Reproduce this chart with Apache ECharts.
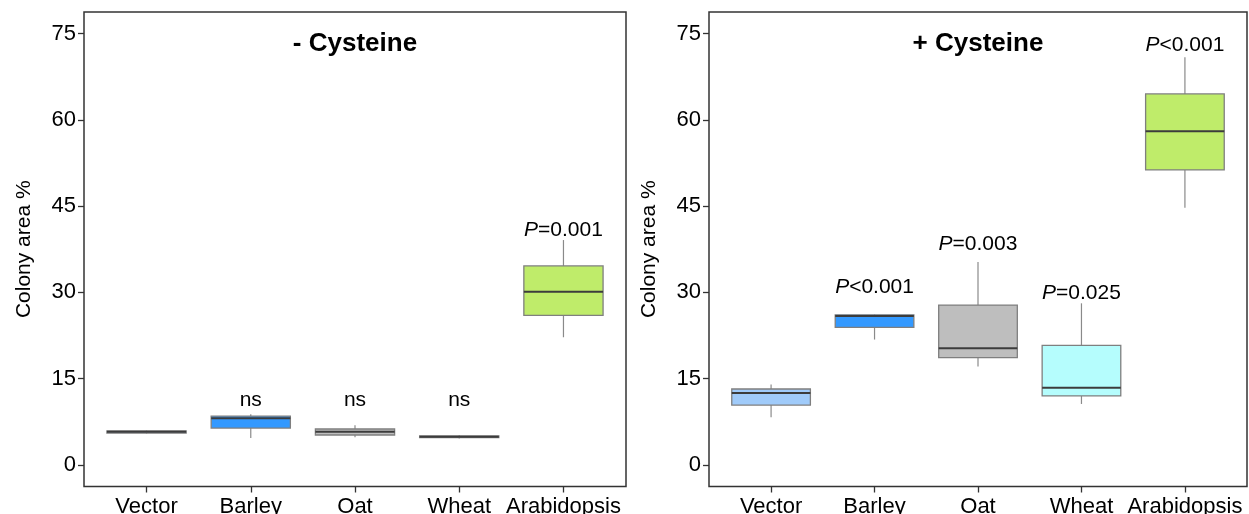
<!DOCTYPE html>
<html><head><meta charset="utf-8">
<script src="https://cdn.jsdelivr.net/npm/echarts@6/dist/echarts.min.js"></script>
<style>html,body{margin:0;padding:0;background:#fff}#c{width:1249px;height:514px}</style>
</head><body><div id="c"></div>
<script>
const categories = ['Vector', 'Barley', 'Oat', 'Wheat', 'Arabidopsis'];
const yTicks = [0, 15, 30, 45, 60, 75];
// each row: [min, Q1, median, Q3, max]
const minusCys = [
  [5.45, 5.55, 5.75, 5.9, 6.0],
  [4.7, 6.4, 8.1, 8.5, 8.8],
  [4.8, 5.2, 5.75, 6.25, 6.9],
  [4.6, 4.75, 4.9, 5.05, 5.2],
  [22.2, 26.0, 30.1, 34.6, 39.1]
];
const plusCys = [
  [8.3, 10.4, 12.5, 13.2, 14.0],
  [21.8, 23.9, 25.9, 26.1, 26.2],
  [17.1, 18.65, 20.3, 27.8, 35.3],
  [10.6, 12.0, 13.4, 20.8, 28.1],
  [44.7, 51.3, 58.0, 64.5, 70.9]
];
const boxColors = ['#a0cbfa', '#3399ff', '#bebebe', '#b5fdfd', '#bfec6a'];
const minusLabels = ['', 'ns', 'ns', 'ns', 'P=0.001'];
const minusLabelY = [null, 11.3, 11.3, 11.3, 40.8];
const plusLabels = ['', 'P<0.001', 'P=0.003', 'P=0.025', 'P<0.001'];
const plusLabelY = [null, 30.9, 38.4, 29.9, 73.0];
const titles = ['- Cysteine', '+ Cysteine'];
const titleY = 73.2;

const FONT = '"Liberation Sans", Arial, Helvetica, sans-serif';
const BOX_W = 0.76;

function renderBox(params, api) {
  const x = api.value(0);
  const pMin = api.coord([x, api.value(1)]);
  const pQ1 = api.coord([x, api.value(2)]);
  const pMed = api.coord([x, api.value(3)]);
  const pQ3 = api.coord([x, api.value(4)]);
  const pMax = api.coord([x, api.value(5)]);
  const w = api.size([BOX_W, 0])[0];
  const cx = pMed[0];
  const color = boxColors[params.dataIndex];
  return {
    type: 'group',
    children: [
      { type: 'line', shape: { x1: cx, y1: pMin[1], x2: cx, y2: pQ1[1] }, style: { stroke: '#8a8a8a', lineWidth: 1.2 } },
      { type: 'line', shape: { x1: cx, y1: pQ3[1], x2: cx, y2: pMax[1] }, style: { stroke: '#8a8a8a', lineWidth: 1.2 } },
      { type: 'rect', shape: { x: cx - w / 2, y: pQ3[1], width: w, height: pQ1[1] - pQ3[1] }, style: { fill: color, stroke: '#7f7f7f', lineWidth: 1.3 } },
      { type: 'line', shape: { x1: cx - w / 2, y1: pMed[1], x2: cx + w / 2, y2: pMed[1] }, style: { stroke: '#3c3c3c', lineWidth: 2 } }
    ]
  };
}

const grids = [
  { left: 84, top: 12, width: 542, bottom: 27.5 },
  { left: 709, top: 12, width: 538, bottom: 27.5 }
];

function renderText(params, api) {
  const p = api.coord([api.value(0), api.value(1)]);
  const t = textItems[params.seriesIndex - 2][params.dataIndex];
  return {
    type: 'text', x: p[0], y: p[1],
    style: Object.assign({ textAlign: 'center', textVerticalAlign: 'middle', fill: '#000' }, t.style)
  };
}

// text items built from the arrays above
const textItems = [[], []];
[[minusLabels, minusLabelY], [plusLabels, plusLabelY]].forEach(([labs, ys], gi) => {
  labs.forEach((t, i) => {
    if (!t) return;
    const rich = t.charAt(0) === 'P' ? '{i|P}{n|' + t.slice(1) + '}' : '{n|' + t + '}';
    textItems[gi].push({ x: i, y: ys[i], style: { text: rich, font: '21px ' + FONT,
      rich: { i: { fontSize: 21, fontStyle: 'italic', fill: '#000', fontFamily: FONT }, n: { fontSize: 21, fill: '#000', fontFamily: FONT } } } });
  });
  textItems[gi].push({ x: 2, y: titleY, style: { text: titles[gi], font: 'bold 26px ' + FONT } });
});

const option = {
  animation: false,
  backgroundColor: '#fff',
  grid: grids.map(g => Object.assign({ show: true, borderColor: '#333', borderWidth: 1.5, backgroundColor: 'transparent', containLabel: false, outerBoundsMode: 'none' }, g)),
  xAxis: [0, 1].map(i => ({
    type: 'value', gridIndex: i, min: -0.6, max: 4.6, position: 'bottom',
    axisLine: { show: false, onZero: false },
    splitLine: { show: false },
    axisTick: { show: true, length: 6, customValues: [0, 1, 2, 3, 4], lineStyle: { color: '#333', width: 1.3 } },
    axisLabel: { show: true, customValues: [0, 1, 2, 3, 4], formatter: v => categories[Math.round(v)], fontSize: 22, color: '#000', fontFamily: FONT, margin: 9 }
  })),
  yAxis: [0, 1].map(i => ({
    type: 'value', gridIndex: i, min: -3.75, max: 78.75, position: 'left',
    axisLine: { show: false, onZero: false },
    splitLine: { show: false },
    axisTick: { show: true, length: 6, customValues: yTicks, lineStyle: { color: '#333', width: 1.3 } },
    axisLabel: { show: true, customValues: yTicks, fontSize: 22, color: '#000', fontFamily: FONT, margin: 8 },
    name: 'Colony area %', nameLocation: 'middle', nameGap: 49,
    nameTextStyle: { fontSize: 21, color: '#000', fontFamily: FONT }
  })),
  series: [
    {
      type: 'custom', xAxisIndex: 0, yAxisIndex: 0, renderItem: renderBox,
      encode: { x: 0, y: [1, 2, 3, 4, 5] },
      data: minusCys.map((d, i) => [i].concat(d)), silent: true
    },
    {
      type: 'custom', xAxisIndex: 1, yAxisIndex: 1, renderItem: renderBox,
      encode: { x: 0, y: [1, 2, 3, 4, 5] },
      data: plusCys.map((d, i) => [i].concat(d)), silent: true
    },
    {
      type: 'custom', xAxisIndex: 0, yAxisIndex: 0, renderItem: renderText,
      encode: { x: 0, y: 1 }, data: textItems[0].map(t => [t.x, t.y]), silent: true
    },
    {
      type: 'custom', xAxisIndex: 1, yAxisIndex: 1, renderItem: renderText,
      encode: { x: 0, y: 1 }, data: textItems[1].map(t => [t.x, t.y]), silent: true
    }
  ]
};

const chart = echarts.init(document.getElementById('c'), null, { renderer: 'canvas' });
chart.setOption(option);
</script>
</body></html>
